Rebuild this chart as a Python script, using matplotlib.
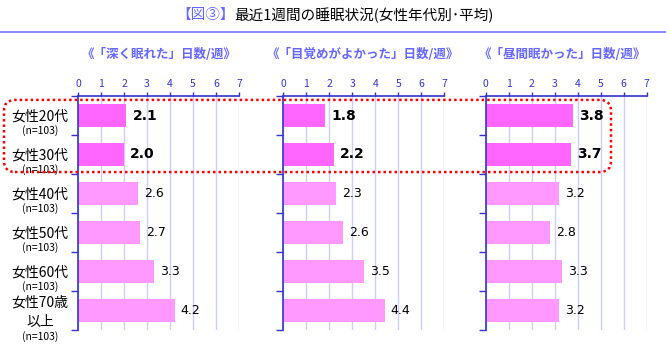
import matplotlib
matplotlib.use("Agg")
import matplotlib.pyplot as plt
import matplotlib.transforms as mtransforms
from matplotlib.patches import FancyBboxPatch

plt.rcParams['font.family'] = ['Noto Sans CJK JP', 'DejaVu Sans']

# Data
groups = ["女性20代", "女性30代", "女性40代", "女性50代", "女性60代", "女性70歳\n以上"]
sample_note = "(n=103)"
panel_titles = ["《「深く眠れた」日数/週》", "《「目覚めがよかった」日数/週》", "《「昼間眠かった」日数/週》"]
deep_sleep = [2.1, 2.0, 2.6, 2.7, 3.3, 4.2]
good_waking = [1.8, 2.2, 2.3, 2.6, 3.5, 4.4]
daytime_sleepy = [3.8, 3.7, 3.2, 2.8, 3.3, 3.2]
x_ticks = [0, 1, 2, 3, 4, 5, 6, 7]
highlight_count = 2

W, H = 666, 349
fig = plt.figure(figsize=(W / 100, H / 100), dpi=100)
fig.patch.set_facecolor("white")

AXIS_BLUE = "#3333cc"
GRID = "#ccccff"
HEAD_BLUE = "#6666ff"
BAR_HI = "#ff66ff"
BAR_LO = "#ff99ff"

def fx(px):
    return px / W

def fy(py):
    return 1 - py / H

# Title: blue figure tag followed by the black caption
tag = fig.text(fx(176), fy(15), "【図③】", color=HEAD_BLUE, fontsize=10.5, ha="left", va="center")
fig.canvas.draw()
tag_end = tag.get_window_extent(fig.canvas.get_renderer()).x1
fig.text(tag_end / W, fy(15), "最近1週間の睡眠状況(女性年代別･平均)", color="black", fontsize=10.5,
         ha="left", va="center")
fig.add_artist(plt.Line2D([0, 1], [fy(32), fy(32)], color="#7777ff", lw=1.2,
                          transform=fig.transFigure))

lefts = [78, 283.3, 485.7]
width_px = 161
top_px, bottom_px = 96, 330
heading_centers = [159, 363, 562]
series = [deep_sleep, good_waking, daytime_sleepy]

axes = []
n = len(groups)
for k in range(3):
    ax = fig.add_axes([fx(lefts[k]), fy(bottom_px), width_px / W, (bottom_px - top_px) / H])
    axes.append(ax)
    vals = series[k]
    colors = [BAR_HI if i < highlight_count else BAR_LO for i in range(n)]
    ypos = list(range(n))
    ax.barh(ypos, vals, height=0.6, color=colors, edgecolor="none", zorder=2)
    ax.set_xlim(0, 7)
    ax.set_ylim(n - 0.5, -0.5)
    ax.set_xticks(x_ticks)
    ax.xaxis.tick_top()
    ax.tick_params(axis="x", colors=AXIS_BLUE, labelsize=7.5, length=3, width=1, pad=2,
                   direction="out")
    ax.set_yticks([i - 0.5 for i in range(n + 1)])
    ax.set_yticklabels([])
    ax.tick_params(axis="y", colors=AXIS_BLUE, length=5, width=1, direction="out")
    ax.grid(axis="x", color=GRID, lw=1, zorder=0)
    ax.set_axisbelow(True)
    for side in ["right", "bottom"]:
        ax.spines[side].set_visible(False)
    for side in ["left", "top"]:
        ax.spines[side].set_color(AXIS_BLUE)
        ax.spines[side].set_linewidth(1.2)
    for i, v in enumerate(vals):
        bold = i < highlight_count
        ax.annotate(f"{v:.1f}", xy=(v, i), xytext=(4.5, 0), textcoords="offset points",
                    ha="left", va="center", fontsize=10 if bold else 9,
                    fontweight="bold" if bold else "normal", color="black",
                    family=["DejaVu Sans"])
    fig.text(fx(heading_centers[k]), fy(54), panel_titles[k], color=HEAD_BLUE, fontsize=9,
             fontweight="bold", ha="center", va="center")

# Group labels to the left of the first panel
ax1 = axes[0]
blend = mtransforms.blended_transform_factory(fig.transFigure, ax1.transData)
px2pt = 0.72
for i, g in enumerate(groups):
    lines = g.split("\n")
    offs = [1.5, 15.5] if len(lines) == 1 else [-7.5, 11.5, 26.5]
    for j, line in enumerate(lines):
        ax1.annotate(line, xy=(fx(40), i), xycoords=blend, xytext=(0, -offs[j] * px2pt),
                     textcoords="offset points", ha="center", va="center", fontsize=10,
                     annotation_clip=False)
    ax1.annotate(sample_note, xy=(fx(40), i), xycoords=blend, xytext=(0, -offs[-1] * px2pt),
                 textcoords="offset points", ha="center", va="center", fontsize=7.5,
                 annotation_clip=False)

# Dotted highlight frame around the first two groups
y_top = ax1.transData.transform((0, -0.4))[1]
y_bot = ax1.transData.transform((0, highlight_count - 0.55))[1]
x_left = 4
x_right = 611
box = FancyBboxPatch((x_left, y_bot), x_right - x_left, y_top - y_bot,
                     boxstyle="round,pad=0,rounding_size=11", fill=False,
                     edgecolor="#ff0000", lw=1.8, linestyle=(0, (1, 1.2)),
                     transform=None, zorder=5)
fig.add_artist(box)

fig.savefig("out.png", dpi=100, facecolor="white")
